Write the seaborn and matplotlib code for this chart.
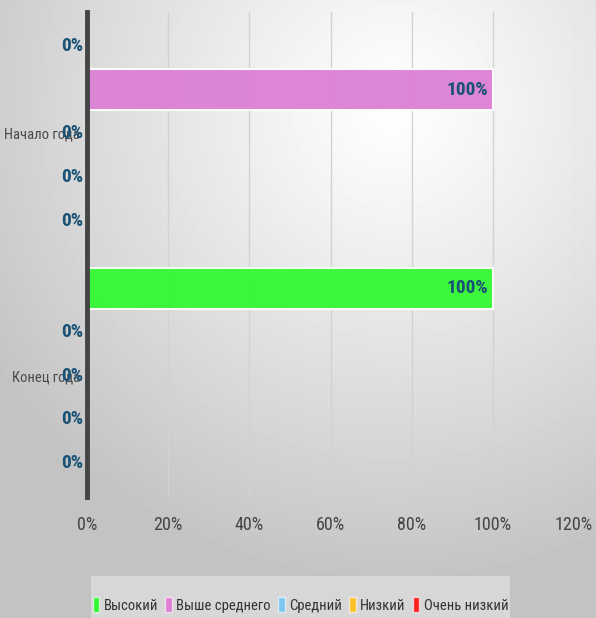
import numpy as np
import pandas as pd
import matplotlib
matplotlib.use("Agg")
import matplotlib.pyplot as plt
from matplotlib.patches import Patch, Rectangle
import seaborn as sns

# Data
periods = ["Начало года", "Конец года"]
levels = ["Высокий", "Выше среднего", "Средний", "Низкий", "Очень низкий"]
start_values = [0, 100, 0, 0, 0]
end_values = [100, 0, 0, 0, 0]
level_colors = ["#33f833", "#dd80d4", "#7ec8ef", "#fcc12a", "#fb2222"]
x_ticks = [0, 20, 40, 60, 80, 100, 120]

df = pd.DataFrame({
    "period": np.repeat(periods, len(levels)),
    "level": levels * len(periods),
    "value": start_values + end_values,
})

sns.set_style("white")
plt.rcParams["font.family"] = ["Roboto Condensed", "DejaVu Sans"]
plt.rcParams["font.stretch"] = "condensed"

W, H = 596, 618
fig = plt.figure(figsize=(W / 100, H / 100), dpi=100)

# radial gradient background
bg = fig.add_axes([0, 0, 1, 1], zorder=-10)
yy, xx = np.mgrid[0:H, 0:W]
r = np.hypot(xx - 0.66 * W, yy - 0.17 * H) / 480.0
shade = 1.0 - 0.235 * np.clip(r, 0, 1) ** 1.1
bg.imshow(shade, cmap="gray", vmin=0, vmax=1, extent=[0, 1, 0, 1], aspect="auto")
bg.axis("off")

ax = fig.add_axes([87 / W, 1 - 497 / H, (574 - 87) / W, (497 - 12) / H])
ax.set_facecolor("none")

sns.barplot(
    data=df, x="value", y="period", hue="level", orient="h",
    palette=level_colors, hue_order=levels, order=periods,
    width=0.9, gap=0.06, alpha=0.95, saturation=1,
    edgecolor=(1, 1, 1, 0.45), linewidth=1.5, ax=ax, legend=False,
)

# value labels at bar ends
for p in ax.patches:
    ax.annotate(
        f"{p.get_width():.0f}%",
        xy=(p.get_width(), p.get_y() + p.get_height() / 2),
        xytext=(-3, 0), textcoords="offset points",
        ha="right", va="center", fontsize=14, fontweight="bold",
        color="#1a5276", annotation_clip=False,
    )

ax.set_xlim(0, 120)
ax.set_xticks(x_ticks)
ax.set_xticklabels([f"{t}%" for t in x_ticks])
ax.set_xlabel("")
ax.set_ylabel("")
ax.grid(axis="x", color="#d2d2d2", linewidth=1)
ax.set_axisbelow(True)
ax.tick_params(axis="x", length=0, pad=14, labelsize=13, labelcolor="#444444")
ax.tick_params(axis="y", length=0, pad=5, labelsize=10.5, labelcolor="#4a4a4a")
for side in ["top", "right", "bottom"]:
    ax.spines[side].set_visible(False)
ax.spines["left"].set_color("#444444")
ax.spines["left"].set_linewidth(3.5)

# legend box
fig.patches.append(Rectangle((91 / W, 0), (510 - 91) / W, 1 - 576 / H,
                             transform=fig.transFigure, facecolor="#d7d7d7",
                             edgecolor="none", zorder=-5))
handles = [Patch(facecolor=c, edgecolor=(1, 1, 1, 0.6), label=l)
           for c, l in zip(level_colors, levels)]
leg = fig.legend(
    handles=handles, loc="center", bbox_to_anchor=(300.5 / W, 1 - 605 / H),
    ncol=5, frameon=False, fontsize=10.5, handlelength=0.45, handleheight=1.2,
    handletextpad=0.3, columnspacing=0.5, borderpad=0, borderaxespad=0,
    labelcolor="#333333",
)

fig.savefig("out.png", dpi=100)
